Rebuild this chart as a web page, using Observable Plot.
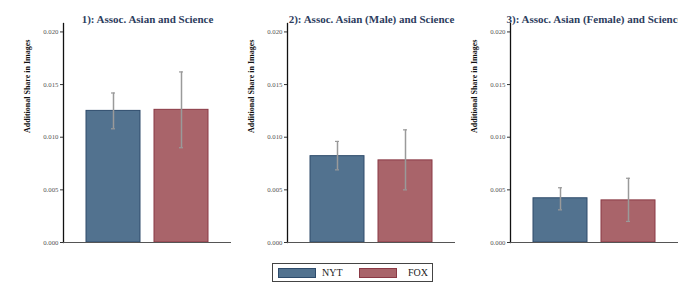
<!DOCTYPE html>
<html><head><meta charset="utf-8">
<script src="https://cdn.jsdelivr.net/npm/d3@7"></script>
<script src="https://cdn.jsdelivr.net/npm/@observablehq/plot@0.6"></script>
<style>
body{margin:0;background:#fff;}
#wrap{position:relative;width:678px;height:285px;overflow:hidden;font-family:"Liberation Serif",serif;}
.panel{position:absolute;top:0;}
#legend{position:absolute;left:272px;top:263px;width:161px;height:19px;border:1px solid #444;box-sizing:border-box;font-size:10px;color:#222;}
.sw{position:absolute;top:4px;width:38px;height:10px;box-sizing:border-box;}
.lb{position:absolute;top:3px;line-height:12px;}
</style></head>
<body><div id="wrap"></div>
<script>
const categories = ["NYT", "FOX"];
const panelTitles = [
  "1): Assoc. Asian and Science",
  "2): Assoc. Asian (Male) and Science",
  "3): Assoc. Asian (Female) and Science"
];
const nytMean = [0.0125, 0.0082, 0.0042];
const foxMean = [0.0126, 0.0078, 0.0040];
const nytLow = [0.0108, 0.0069, 0.0031];
const nytHigh = [0.0142, 0.0096, 0.0052];
const foxLow = [0.0090, 0.0050, 0.0020];
const foxHigh = [0.0162, 0.0107, 0.0061];
const yTicks = [0, 0.005, 0.010, 0.015, 0.020];
const yLabel = "Additional Share in Images";
const fills = ["#52728f", "#a9646a"];
const strokes = ["#2e4b6b", "#8a3945"];

const wrap = document.getElementById("wrap");
const lefts = [0, 224, 447];

panelTitles.forEach((title, i) => {
  const rows = [
    {src: "NYT", mean: nytMean[i], lo: nytLow[i], hi: nytHigh[i]},
    {src: "FOX", mean: foxMean[i], lo: foxLow[i], hi: foxHigh[i]}
  ];
  const chart = Plot.plot({
    width: 232, height: 255,
    marginLeft: 63, marginRight: 1, marginTop: 23, marginBottom: 13,
    style: {fontFamily: "Liberation Serif", background: "transparent", overflow: "visible"},
    x: {domain: categories, paddingInner: 0.2, paddingOuter: 0.32, axis: null},
    y: {domain: [0, 0.0208], axis: null},
    color: {domain: categories, range: fills},
    marks: [
      Plot.frame({anchor: "left", stroke: "#111", strokeWidth: 1.3}),
      Plot.axisY(yTicks, {tickSize: 3, tickPadding: 2, fontSize: 6.8, fill: "#555", stroke: "#333", tickFormat: d3.format(".3f"), label: null}),
      Plot.barY(rows, {x: "src", y: "mean", fill: "src", stroke: (d) => strokes[categories.indexOf(d.src)], strokeWidth: 1}),
      Plot.ruleX(rows, {x: "src", y1: "lo", y2: "hi", stroke: "#9a9a9a", strokeWidth: 1.5}),
      Plot.tickY(rows, {x: "src", y: "lo", stroke: "#9a9a9a", strokeWidth: 1.2, insetLeft: 25, insetRight: 25}),
      Plot.tickY(rows, {x: "src", y: "hi", stroke: "#9a9a9a", strokeWidth: 1.2, insetLeft: 25, insetRight: 25}),
      Plot.ruleY([0], {stroke: "#555", strokeWidth: 1.2}),
      Plot.text([title], {frameAnchor: "top", dy: -8, fontSize: 11, fontWeight: "bold", fill: "#2d3d5e"}),
      Plot.text([yLabel], {frameAnchor: "left", dx: -36, rotate: -90, fontSize: 8, fontWeight: "bold", fill: "#111"})
    ]
  });
  chart.classList.add("panel");
  chart.style.left = lefts[i] + "px";
  wrap.appendChild(chart);
});

const legend = document.createElement("div");
legend.id = "legend";
legend.innerHTML =
  `<div class="sw" style="left:5px;background:${fills[0]};border:1px solid ${strokes[0]}"></div>` +
  `<div class="lb" style="left:49px">${categories[0]}</div>` +
  `<div class="sw" style="left:86px;background:${fills[1]};border:1px solid ${strokes[1]}"></div>` +
  `<div class="lb" style="left:135px">${categories[1]}</div>`;
wrap.appendChild(legend);
</script></body></html>
